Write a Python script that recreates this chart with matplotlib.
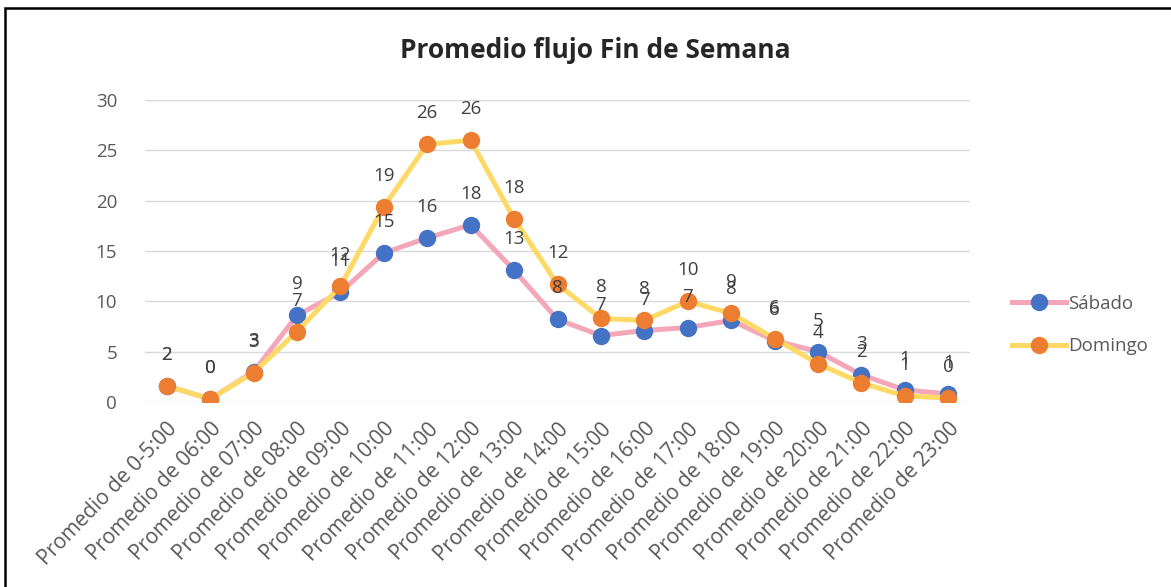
import matplotlib.pyplot as plt
from matplotlib.patches import Rectangle

plt.rcParams['font.family'] = ['Open Sans', 'DejaVu Sans']

horas = ["0-5:00", "06:00", "07:00", "08:00", "09:00", "10:00", "11:00",
         "12:00", "13:00", "14:00", "15:00", "16:00", "17:00", "18:00",
         "19:00", "20:00", "21:00", "22:00", "23:00"]
labels = ["Promedio de " + h for h in horas]

sabado = [1.6, 0.3, 3.0, 8.6, 10.9, 14.8, 16.3, 17.6, 13.1, 8.2, 6.6,
          7.1, 7.4, 8.1, 6.1, 5.0, 2.7, 1.2, 0.8]
domingo = [1.6, 0.3, 2.9, 7.0, 11.5, 19.4, 25.6, 26.0, 18.2, 11.7, 8.3,
           8.1, 10.0, 8.8, 6.3, 3.8, 1.9, 0.6, 0.4]

fig = plt.figure(figsize=(11.71, 5.87), dpi=100)
ax = fig.add_axes([145 / 1171, 1 - 402 / 587, (970 - 145) / 1171, 302 / 587])

x = range(len(labels))
series = [
    ("Sábado", sabado, "#F4A7B9", "#4472C4"),
    ("Domingo", domingo, "#FFD966", "#ED7D31"),
]
for name, vals, lc, mc in series:
    ax.plot(x, vals, color=lc, lw=3.6, marker="o", ms=11.5,
            mfc=mc, mec=mc, label=name)
    for i, v in enumerate(vals):
        ax.annotate(f"{v:.0f}", (i, v), xytext=(0, 31), textcoords="offset pixels",
                    ha="center", va="center", fontsize=13.5, color="#404040")

ax.set_ylim(0, 30)
ax.set_xlim(-0.5, len(labels) - 0.5)
ax.set_yticks(range(0, 31, 5))
ax.set_xticks(list(x))
ax.set_xticklabels(labels, rotation=46, ha="right", rotation_mode="anchor",
                   fontsize=15, color="#595959")
ax.tick_params(axis="y", labelsize=13.5, labelcolor="#595959", length=0, pad=20)
ax.tick_params(axis="x", length=0, pad=12)
ax.grid(axis="y", color="#D9D9D9", lw=1)
ax.set_axisbelow(True)
for s in ax.spines.values():
    s.set_visible(False)

ax.legend(loc="center left", bbox_to_anchor=(1.03, 0.255), frameon=False,
          fontsize=13.5, labelcolor="#595959", handlelength=2.9,
          labelspacing=1.3, handletextpad=0.1)

fig.text(595 / 1171, 1 - 50 / 587, "Promedio flujo Fin de Semana", ha="center",
         va="center", fontsize=19, fontweight="bold", color="#262626")

fig.patches.append(Rectangle((5 / 1171, -0.1), 1.2, 1 - 8 / 587 + 0.1,
                             transform=fig.transFigure, fill=False,
                             ec="black", lw=1.8))

fig.savefig("out.png", dpi=100)
